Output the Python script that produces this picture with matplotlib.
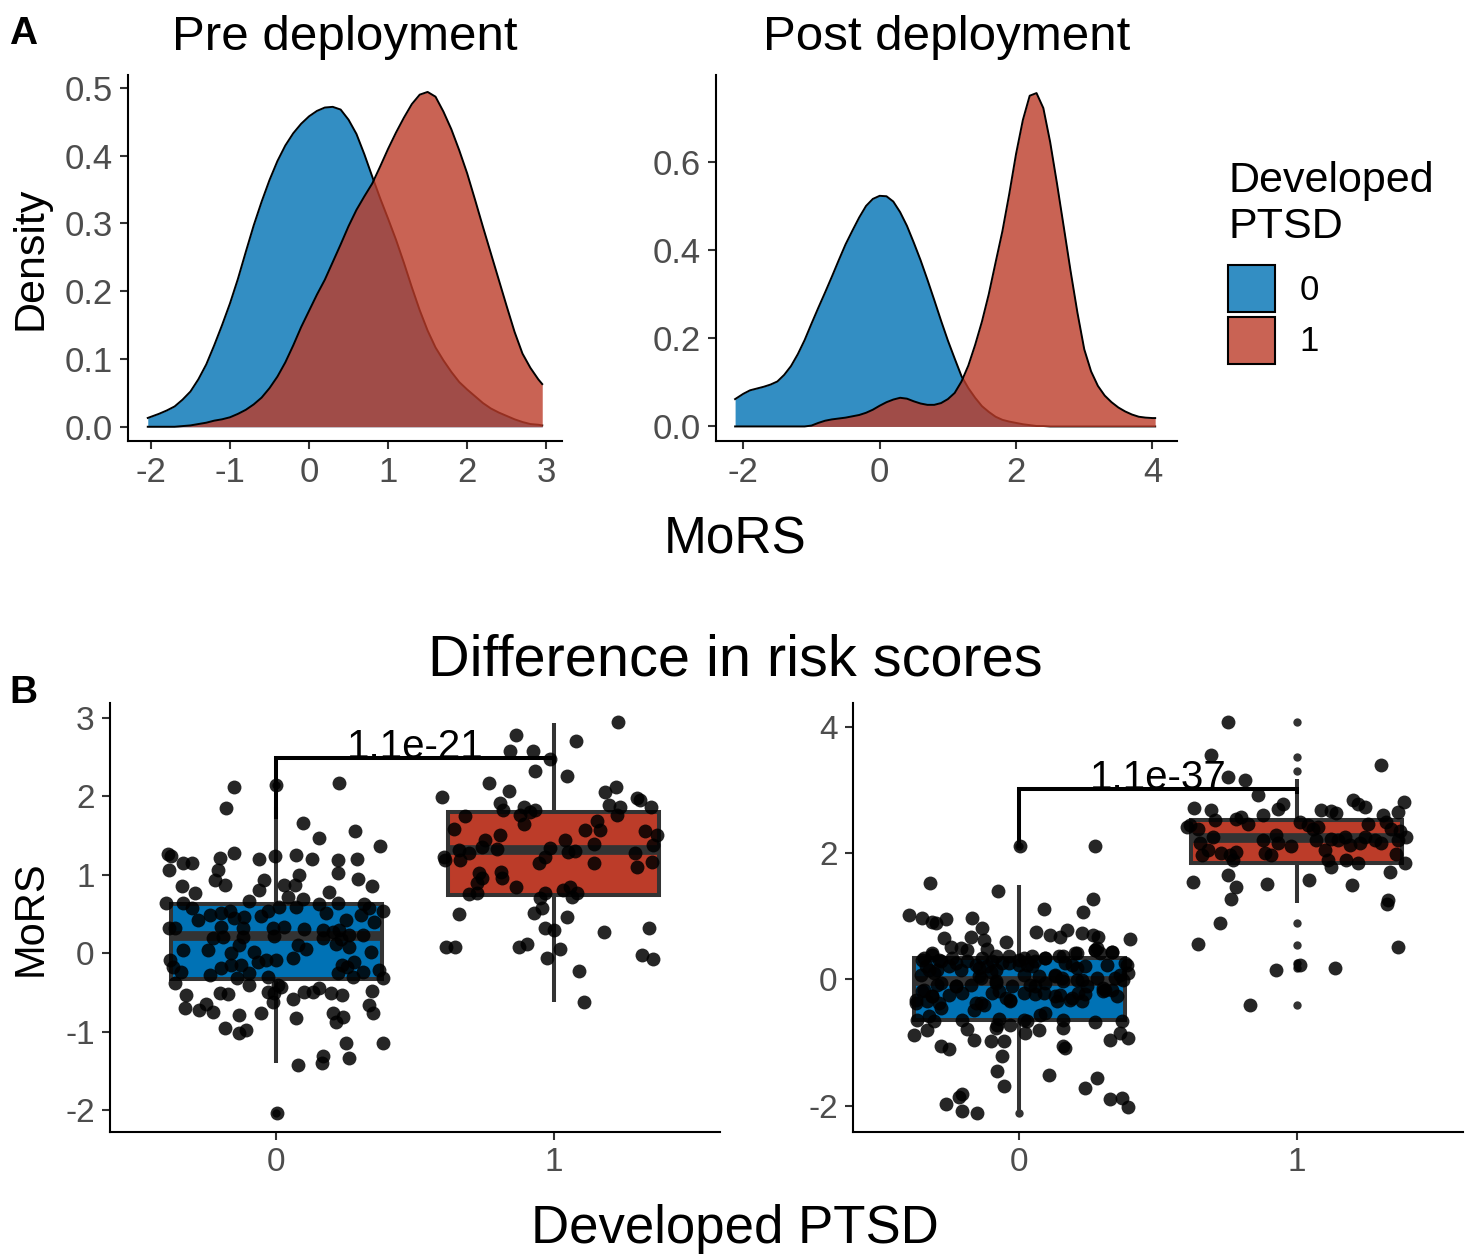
import numpy as np
import matplotlib
matplotlib.use("Agg")
import matplotlib.pyplot as plt
from matplotlib.patches import Patch
from matplotlib.colors import to_rgba

plt.rcParams['font.family'] = ['Liberation Sans', 'DejaVu Sans']
plt.rcParams['axes.unicode_minus'] = False

BLUE = '#0072B5'
RED = '#BC3C29'
EDGE = '#333333'
TICK_TXT = '#4D4D4D'

# ---- panel A: density curves ----
pre_x = [-2.04, -1.9, -1.8, -1.7, -1.6, -1.5, -1.4, -1.3, -1.2, -1.1,
         -1.0, -0.9, -0.8, -0.7, -0.6, -0.5, -0.4, -0.3, -0.2, -0.1,
         0.0, 0.1, 0.2, 0.3, 0.4, 0.5, 0.6, 0.7, 0.8, 0.9,
         1.0, 1.1, 1.2, 1.3, 1.4, 1.5, 1.6, 1.7, 1.8, 1.9,
         2.0, 2.1, 2.2, 2.3, 2.4, 2.5, 2.6, 2.7, 2.8, 2.9, 2.95]
pre_dens0 = [0.013, 0.019, 0.024, 0.030, 0.040, 0.052, 0.070, 0.092, 0.120, 0.150,
             0.182, 0.218, 0.258, 0.297, 0.332, 0.364, 0.392, 0.415, 0.433, 0.447,
             0.458, 0.466, 0.471, 0.472, 0.468, 0.453, 0.432, 0.402, 0.369, 0.337,
             0.307, 0.276, 0.242, 0.206, 0.172, 0.142, 0.117, 0.098, 0.081, 0.066,
             0.055, 0.045, 0.035, 0.027, 0.021, 0.016, 0.011, 0.007, 0.004, 0.003, 0.002]
pre_dens1 = [0.0, 0.0, 0.0, 0.0, 0.001, 0.002, 0.004, 0.006, 0.009, 0.011,
             0.014, 0.019, 0.025, 0.033, 0.043, 0.057, 0.074, 0.095, 0.120, 0.147,
             0.171, 0.195, 0.217, 0.243, 0.269, 0.296, 0.320, 0.340, 0.359, 0.384,
             0.410, 0.434, 0.456, 0.476, 0.490, 0.494, 0.487, 0.465, 0.439, 0.408,
             0.374, 0.335, 0.295, 0.256, 0.217, 0.178, 0.140, 0.108, 0.087, 0.070, 0.063]

post_x = [-2.12, -2.0, -1.9, -1.8, -1.7, -1.6, -1.5, -1.4, -1.3, -1.2, -1.1,
          -1.0, -0.9, -0.8, -0.7, -0.6, -0.5, -0.4, -0.3, -0.2, -0.1,
          0.0, 0.1, 0.2, 0.3, 0.4, 0.5, 0.6, 0.7, 0.8, 0.9,
          1.0, 1.1, 1.2, 1.3, 1.4, 1.5, 1.6, 1.7, 1.8, 1.9,
          2.0, 2.1, 2.2, 2.3, 2.4, 2.5, 2.6, 2.7, 2.8, 2.9,
          3.0, 3.1, 3.2, 3.3, 3.4, 3.5, 3.6, 3.7, 3.8, 3.9, 4.0, 4.04]
post_dens0 = [0.062, 0.074, 0.082, 0.086, 0.090, 0.095, 0.102, 0.117, 0.137, 0.164, 0.196,
              0.233, 0.269, 0.304, 0.340, 0.377, 0.413, 0.444, 0.474, 0.500, 0.516,
              0.523, 0.522, 0.510, 0.486, 0.455, 0.417, 0.377, 0.333, 0.287, 0.240,
              0.195, 0.154, 0.114, 0.087, 0.065, 0.046, 0.033, 0.022, 0.015, 0.011,
              0.008, 0.005, 0.003, 0.001, 0.001, 0.0, 0.0, 0.0, 0.0, 0.0,
              0.0, 0.0, 0.0, 0.0, 0.0, 0.0, 0.0, 0.0, 0.0, 0.0, 0.0, 0.0]
post_dens1 = [0.0, 0.0, 0.0, 0.0, 0.0, 0.0, 0.0, 0.0, 0.0, 0.0, 0.0,
              0.002, 0.008, 0.013, 0.016, 0.018, 0.020, 0.023, 0.026, 0.031, 0.038,
              0.047, 0.055, 0.061, 0.065, 0.063, 0.057, 0.052, 0.049, 0.049, 0.053,
              0.062, 0.076, 0.102, 0.138, 0.185, 0.238, 0.300, 0.372, 0.443, 0.527,
              0.618, 0.695, 0.750, 0.756, 0.722, 0.645, 0.551, 0.452, 0.352, 0.258,
              0.175, 0.125, 0.092, 0.070, 0.055, 0.043, 0.034, 0.027, 0.022, 0.020, 0.019, 0.019]

# ---- panel B: individual MoRS values and their horizontal jitter ----
pre0_mors = [2.116, 2.145, 2.167, 1.856, 1.665, 1.465, 1.559, 1.372, 1.265, 1.240,
             1.282, 1.210, 1.197, 1.240, 1.253, 1.202, 1.189, 1.206, 1.155, 1.146,
             1.061, 1.061, 0.934, 0.870, 0.934, 0.997, 1.019, 0.946, 0.861, 0.861,
             0.772, 0.806, 0.870, 0.870, 0.785, 0.721, 0.645, 0.636, 0.572, 0.666,
             0.687, 0.627, 0.636, 0.627, 0.543, 0.593, 0.593, 0.543, 0.572, 0.487,
             0.508, 0.543, 0.423, 0.445, 0.457, 0.474, 0.508, 0.423, 0.487, 0.402,
             0.317, 0.317, 0.338, 0.317, 0.317, 0.338, 0.304, 0.296, 0.275, 0.296,
             0.232, 0.190, 0.211, 0.202, 0.219, 0.190, 0.177, 0.232, 0.041, 0.041,
             -0.002, 0.105, 0.020, 0.105, 0.049, 0.083, 0.011, 0.117, -0.087, -0.172,
             -0.235, -0.193, -0.151, -0.151, -0.257, -0.108, -0.087, -0.087, -0.066, -0.151,
             -0.108, -0.172, -0.235, -0.214, -0.320, -0.257, -0.299, -0.384, -0.278, -0.320,
             -0.405, -0.299, -0.405, -0.427, -0.533, -0.512, -0.525, -0.491, -0.512, -0.588,
             -0.491, -0.491, -0.448, -0.512, -0.533, -0.478, -0.703, -0.724, -0.648, -0.746,
             -0.788, -0.767, -0.618, -0.831, -0.767, -0.809, -0.873, -0.661, -0.767, -0.950,
             -1.022, -0.980, -1.150, -1.150, -1.311, -1.426, -1.405, -1.341, -2.034]
pre0_jit = [-0.151, -0.001, 0.227, -0.183, 0.097, 0.152, 0.283, 0.374, -0.391, -0.379,
            -0.151, -0.205, -0.061, -0.004, 0.071, 0.127, 0.221, 0.290, -0.337, -0.303,
            -0.387, -0.211, -0.223, -0.187, -0.043, 0.083, 0.224, 0.295, 0.344, -0.339,
            -0.295, -0.061, 0.029, 0.068, 0.191, 0.041, -0.397, -0.337, -0.303, -0.097,
            0.095, 0.155, 0.221, 0.317, 0.383, 0.011, 0.071, -0.031, 0.335, -0.241,
            -0.199, -0.169, -0.283, -0.151, -0.115, -0.055, 0.179, 0.251, 0.307, 0.353,
            -0.387, -0.367, -0.199, -0.121, -0.013, 0.029, 0.101, 0.167, 0.203, 0.227,
            0.263, -0.229, -0.193, -0.121, -0.007, 0.167, 0.233, 0.311, -0.337, -0.247,
            -0.163, -0.133, -0.079, 0.077, 0.107, 0.263, 0.341, 0.215, -0.385, -0.373,
            -0.343, -0.199, -0.163, -0.127, -0.097, -0.067, -0.037, -0.001, 0.059, 0.236,
            0.281, 0.254, 0.311, 0.371, 0.383, 0.221, 0.275, -0.367, -0.241, -0.143,
            -0.097, -0.031, 0.005, 0.017, -0.325, -0.205, -0.175, -0.031, -0.007, 0.059,
            0.101, 0.131, 0.155, 0.197, 0.236, 0.344, -0.331, -0.279, -0.253, -0.229,
            -0.133, -0.055, -0.013, 0.071, 0.203, 0.239, 0.215, 0.335, 0.347, -0.187,
            -0.133, -0.109, 0.251, 0.383, 0.167, 0.077, 0.164, 0.263, 0.002]

pre1_mors = [2.953, 2.783, 2.711, 2.579, 2.579, 2.473, 2.324, 2.260, 2.167, 2.073,
             1.997, 2.060, 2.124, 1.912, 1.827, 1.869, 1.805, 1.827, 1.763, 1.648,
             1.890, 1.869, 1.763, 1.975, 1.954, 1.861, 1.750, 1.690, 1.571, 1.571,
             1.580, 1.508, 1.444, 1.359, 1.325, 1.316, 1.274, 1.231, 1.189, 1.189,
             1.444, 1.338, 1.295, 1.308, 1.393, 1.559, 1.508, 1.380, 1.282, 1.155,
             1.231, 1.146, 1.104, 1.168, 1.019, 0.955, 1.040, 0.955, 0.900, 0.840,
             0.751, 0.764, 0.772, 0.700, 0.806, 0.840, 0.764, 0.713, 0.500, 0.508,
             0.572, 0.466, 0.317, 0.296, 0.275, 0.326, 0.083, 0.083, 0.075, 0.117,
             -0.066, 0.049, -0.023, -0.078, -0.223, -0.618]
pre1_jit = [0.231, -0.134, 0.080, -0.158, -0.074, -0.012, -0.066, 0.048, -0.234, -0.162,
            -0.402, 0.186, 0.225, -0.192, -0.182, -0.108, -0.086, -0.066, -0.120, -0.108,
            0.198, 0.240, 0.228, 0.300, 0.312, 0.350, -0.321, 0.156, 0.168, 0.114,
            -0.360, -0.194, -0.246, -0.258, -0.206, -0.342, -0.306, -0.396, -0.393, -0.336,
            0.042, -0.014, 0.050, 0.078, 0.144, 0.330, 0.372, 0.360, 0.294, -0.054,
            -0.030, 0.144, 0.300, 0.354, -0.270, -0.258, -0.189, -0.186, -0.276, -0.134,
            -0.306, -0.276, -0.030, -0.048, 0.034, 0.058, 0.084, 0.066, -0.342, -0.072,
            -0.042, 0.048, -0.030, 0.000, 0.183, 0.344, -0.390, -0.357, -0.126, -0.096,
            -0.024, 0.022, 0.318, 0.360, 0.092, 0.110]

post0_mors = [2.111, 2.116, 1.521, 1.400, 1.273, 1.110, 1.073, 1.020, 0.968, 0.915,
              0.889, 0.952, 0.968, 0.820, 0.652, 0.678, 0.625, 0.599, 0.757, 0.705,
              0.678, 0.784, 0.731, 0.705, 0.678, 0.636, 0.520, 0.494, 0.468, 0.478,
              0.389, 0.336, 0.310, 0.336, 0.336, 0.362, 0.362, 0.336, 0.362, 0.336,
              0.373, 0.415, 0.457, 0.441, 0.494, 0.204, 0.152, 0.257, 0.231, 0.204,
              0.257, 0.231, 0.204, 0.231, 0.204, 0.231, 0.231, 0.073, 0.099, 0.046,
              0.109, 0.073, 0.046, 0.073, 0.020, 0.020, 0.073, -0.006, -0.059, -0.112,
              -0.085, -0.059, -0.112, -0.085, -0.059, -0.033, -0.006, -0.112, -0.138, -0.164,
              -0.191, -0.270, -0.243, -0.217, -0.217, -0.191, -0.322, -0.217, -0.228, -0.217,
              -0.243, -0.217, -0.228, -0.191, -0.270, -0.375, -0.349, -0.375, -0.375, -0.401,
              -0.454, -0.480, -0.349, -0.349, -0.322, -0.349, -0.533, -0.559, -0.638, -0.586,
              -0.665, -0.649, -0.628, -0.717, -0.717, -0.638, -0.665, -0.638, -0.680, -0.665,
              -0.875, -0.796, -0.786, -0.770, -0.849, -0.796, -0.770, -0.954, -0.849, -0.928,
              -0.954, -0.981, -0.981, -1.060, -1.112, -1.060, -1.086, -1.218, -1.454, -1.691,
              -1.523, -1.718, -1.560, -1.981, -1.860, -1.823, -2.086, -2.113, -1.902, -1.876,
              -2.018,
              0.310, 0.415, 0.152, 0.283, 0.204, 0.152, 0.283, 0.178, 0.283, 0.152,
              0.257, 0.310, 0.231, 0.283, 0.336, 0.362, 0.257, 0.415, 0.178, 0.468,
              0.415, 0.441, 0.257, 0.099, 0.046, -0.006, 0.020, -0.112, -0.033, -0.112,
              -0.085, -0.164, -0.164, 0.020, -0.322, -0.270, -0.375, -0.296, -0.270, -0.296]
post0_jit = [0.004, 0.273, -0.323, -0.078, 0.267, 0.090, 0.229, -0.398, -0.350, -0.314,
             -0.302, -0.266, -0.170, -0.134, -0.272, -0.176, -0.128, -0.050, 0.061, 0.112,
             0.147, 0.171, 0.225, 0.267, 0.285, 0.399, -0.248, -0.212, -0.188, -0.116,
             -0.314, -0.344, -0.290, -0.242, -0.134, -0.086, -0.038, 0.016, 0.046, 0.094,
             0.159, 0.207, 0.273, 0.333, 0.279, -0.338, -0.296, -0.230, -0.158, -0.116,
             -0.062, -0.002, 0.046, 0.189, 0.237, 0.315, 0.387, -0.356, -0.308, -0.146,
             -0.104, 0.016, 0.070, 0.129, 0.153, 0.279, 0.363, 0.375, -0.284, -0.230,
             -0.176, -0.086, -0.026, 0.040, 0.094, 0.159, 0.207, 0.243, 0.303, 0.333,
             -0.350, -0.314, -0.254, -0.206, -0.098, -0.074, -0.032, 0.016, 0.058, 0.088,
             0.147, 0.213, 0.237, 0.303, 0.351, -0.374, -0.332, -0.290, -0.140, -0.128,
             -0.284, -0.164, -0.032, 0.135, 0.183, 0.225, 0.094, 0.076, -0.368, -0.326,
             -0.308, -0.206, -0.074, -0.080, -0.032, 0.016, 0.028, 0.159, 0.273, 0.369,
             -0.380, -0.332, -0.188, -0.086, 0.022, 0.070, 0.159, 0.327, 0.363, 0.393,
             -0.164, -0.104, -0.056, -0.284, -0.254, 0.159, 0.165, -0.062, -0.080, -0.056,
             0.106, 0.237, 0.279, -0.266, -0.218, -0.206, -0.206, -0.152, 0.327, 0.369,
             0.390,
             -0.350, -0.314, -0.326, -0.284, -0.254, -0.212, -0.188, -0.146, -0.098, -0.086,
             -0.038, -0.002, 0.028, 0.058, 0.094, 0.142, 0.166, 0.201, 0.207, 0.273,
             0.291, 0.333, 0.381, 0.393, 0.130, 0.225, -0.140, -0.230, -0.086, 0.058,
             -0.296, -0.344, 0.309, 0.345, -0.374, -0.314, -0.158, -0.050, 0.130, 0.190]

post1_mors = [4.075, 3.548, 3.206, 3.153, 2.916, 2.721, 2.690, 2.600, 2.706, 2.774,
              3.390, 2.811, 2.653, 2.837, 2.785, 2.732, 2.679, 2.663, 2.637, 2.600,
              2.416, 2.442, 2.390, 2.521, 2.548, 2.574, 2.469, 2.495, 2.442, 2.390,
              2.416, 2.458, 2.495, 2.390, 2.353, 2.258, 2.258, 2.153, 1.968, 2.047,
              1.995, 1.968, 2.021, 1.889, 2.205, 2.284, 2.153, 2.111, 1.995, 1.968,
              2.205, 2.047, 2.232, 2.205, 2.258, 2.126, 2.153, 2.258, 2.205, 2.153,
              2.205, 1.889, 1.784, 1.889, 1.837, 1.984, 1.847, 1.547, 1.652, 1.468,
              1.268, 1.510, 1.573, 1.494, 1.705, 1.257, 1.194, 0.889, 0.557, 0.141,
              0.231, 0.178, -0.401, 0.520]
post1_jit = [-0.249, -0.309, -0.247, -0.185, -0.141, -0.369, -0.309, -0.121, -0.067, -0.049,
             0.305, 0.388, 0.365, 0.203, 0.221, 0.245, 0.089, 0.125, 0.143, 0.311,
             -0.397, -0.385, -0.355, -0.295, -0.217, -0.199, -0.175, 0.011, 0.041, 0.059,
             0.077, 0.257, 0.323, 0.341, 0.371, 0.394, -0.301, -0.349, -0.343, -0.319,
             -0.271, -0.241, -0.217, -0.229, -0.121, -0.073, -0.067, -0.019, -0.115, -0.091,
             0.071, 0.101, 0.125, 0.149, 0.173, 0.191, 0.227, 0.245, 0.281, 0.305,
             0.365, 0.113, 0.125, 0.179, 0.221, 0.359, 0.391, -0.373, -0.247, -0.217,
             -0.235, -0.106, 0.043, 0.199, 0.335, 0.331, 0.326, -0.277, -0.355, -0.073,
             0.011, 0.137, -0.169, 0.365]

# box summaries as drawn (q1, median, q3, whisker ends, outliers)
pre_box = [dict(q1=-0.333, med=0.219, q3=0.628, whislo=-1.40, whishi=1.86, fliers=[2.145, -2.034]),
           dict(q1=0.742, med=1.316, q3=1.805, whislo=-0.62, whishi=2.94, fliers=[])]
post_box = [dict(q1=-0.649, med=-0.03, q3=0.336, whislo=-2.11, whishi=1.495, fliers=[2.111, -2.113]),
            dict(q1=1.847, med=2.248, q3=2.52, whislo=1.205, whishi=3.18,
                 fliers=[4.074, 3.53, 3.295, 0.90, 0.547, 0.257, 0.18, -0.40])]

# significance brackets: bar height, left tip, right tip, label
pre_bracket = (2.486, 1.74, 2.44, '1.1e-21')
post_bracket = (3.02, 2.11, 2.97, '1.1e-37')

groups = ['0', '1']

W, H = 1470, 1255
fig = plt.figure(figsize=(W / 100, H / 100), dpi=100)


def px_axes(x0, y0, x1, y1):
    # axes from pixel box (left, top, right, bottom)
    return fig.add_axes([x0 / W, 1 - y1 / H, (x1 - x0) / W, (y1 - y0) / H])


def classic(ax, size):
    for s in ['top', 'right']:
        ax.spines[s].set_visible(False)
    for s in ['left', 'bottom']:
        ax.spines[s].set_linewidth(1.5)
        ax.spines[s].set_color('black')
    ax.tick_params(direction='out', length=6, width=1.5, color=EDGE,
                   labelcolor=TICK_TXT, labelsize=size, pad=5)


def density_panel(ax, x, d0, d1):
    ax.fill_between(x, 0, d0, color=BLUE, alpha=0.8, linewidth=0, zorder=1)
    ax.plot(x, d0, color='black', lw=1.4, zorder=1.1)
    ax.fill_between(x, 0, d1, color=RED, alpha=0.8, linewidth=0, zorder=1.2)
    ax.plot(x, d1, color='black', lw=1.4, zorder=1.3)


axA1 = px_axes(128, 75, 562, 441)
density_panel(axA1, pre_x, pre_dens0, pre_dens1)
axA1.set_xlim(-2.29, 3.2)
axA1.set_ylim(-0.021, 0.519)
axA1.set_xticks([-2, -1, 0, 1, 2, 3])
axA1.set_yticks([0.0, 0.1, 0.2, 0.3, 0.4, 0.5])
axA1.set_yticklabels(['0.0', '0.1', '0.2', '0.3', '0.4', '0.5'])
classic(axA1, 25)
axA1.set_title('Pre deployment', fontsize=35.5, pad=18)

axA2 = px_axes(716, 75, 1177, 441)
density_panel(axA2, post_x, post_dens0, post_dens1)
axA2.set_xlim(-2.40, 4.36)
axA2.set_ylim(-0.033, 0.797)
axA2.set_xticks([-2, 0, 2, 4])
axA2.set_yticks([0.0, 0.2, 0.4, 0.6])
axA2.set_yticklabels(['0.0', '0.2', '0.4', '0.6'])
classic(axA2, 25)
axA2.set_title('Post deployment', fontsize=35.5, pad=18)

# legend for both density panels (title written separately)
fig.text(1228 / W, 1 - 192 / H, 'Developed', fontsize=31, va='baseline')
fig.text(1228 / W, 1 - 238 / H, 'PTSD', fontsize=31, va='baseline')
handles = [Patch(facecolor=to_rgba(BLUE, 0.8), edgecolor='black', linewidth=1.5),
           Patch(facecolor=to_rgba(RED, 0.8), edgecolor='black', linewidth=1.5)]
fig.legend(handles, groups, loc='upper left', bbox_to_anchor=(1228 / W, 1 - 265 / H),
           frameon=False, fontsize=25, handlelength=1.35, handleheight=1.7,
           handletextpad=0.72, labelspacing=0.14, borderpad=0, borderaxespad=0)


def box_panel(ax, stats, vals, jits, bracket):
    for pos, st, col in zip([0, 1], stats, [BLUE, RED]):
        ax.bxp([st], positions=[pos], widths=0.76, patch_artist=True, showcaps=False,
               boxprops=dict(facecolor=col, edgecolor=EDGE, linewidth=2.9),
               medianprops=dict(color=EDGE, linewidth=7, solid_capstyle='butt'),
               whiskerprops=dict(color=EDGE, linewidth=2.9, solid_capstyle='butt'),
               flierprops=dict(marker='o', markersize=6, markerfacecolor=EDGE,
                               markeredgecolor='none'))
    for pos, v, j in zip([0, 1], vals, jits):
        ax.scatter(pos + np.array(j), v, s=100, color='black', alpha=0.85,
                   linewidths=0, zorder=3)
    yb, tip0, tip1, label = bracket
    ax.plot([0, 0, 1, 1], [tip0, yb, yb, tip1], color='black', lw=2.9,
            solid_joinstyle='miter', zorder=4)
    ax.text(0.5, yb, label, ha='center', va='baseline', fontsize=29, zorder=5)
    ax.set_xlim(-0.6, 1.6)
    ax.set_xticks([0, 1])
    ax.set_xticklabels(groups)
    classic(ax, 24)


axB1 = px_axes(110, 703, 720, 1132)
box_panel(axB1, pre_box, [pre0_mors, pre1_mors], [pre0_jit, pre1_jit], pre_bracket)
axB1.set_ylim(-2.28, 3.19)
axB1.set_yticks([-2, -1, 0, 1, 2, 3])

axB2 = px_axes(853, 703, 1463, 1132)
box_panel(axB2, post_box, [post0_mors, post1_mors], [post0_jit, post1_jit], post_bracket)
axB2.set_ylim(-2.42, 4.38)
axB2.set_yticks([-2, 0, 2, 4])

# shared labels and panel tags
fig.text(0.5, 1 - 553 / H, 'MoRS', ha='center', va='baseline', fontsize=37)
fig.text(0.5, 1 - 675 / H, 'Difference in risk scores', ha='center', va='baseline', fontsize=41.5)
fig.text(0.5, 1 - 1243 / H, 'Developed PTSD', ha='center', va='baseline', fontsize=38)
fig.text(31 / W, 1 - 258 / H, 'Density', rotation=90, ha='center', va='center', fontsize=31)
fig.text(31 / W, 1 - 918 / H, 'MoRS', rotation=90, ha='center', va='center', fontsize=30)
fig.text(9 / W, 1 - 44 / H, 'A', fontsize=28, fontweight='bold', va='baseline')
fig.text(9 / W, 1 - 703 / H, 'B', fontsize=28, fontweight='bold', va='baseline')

fig.savefig('out.png', dpi=100)
